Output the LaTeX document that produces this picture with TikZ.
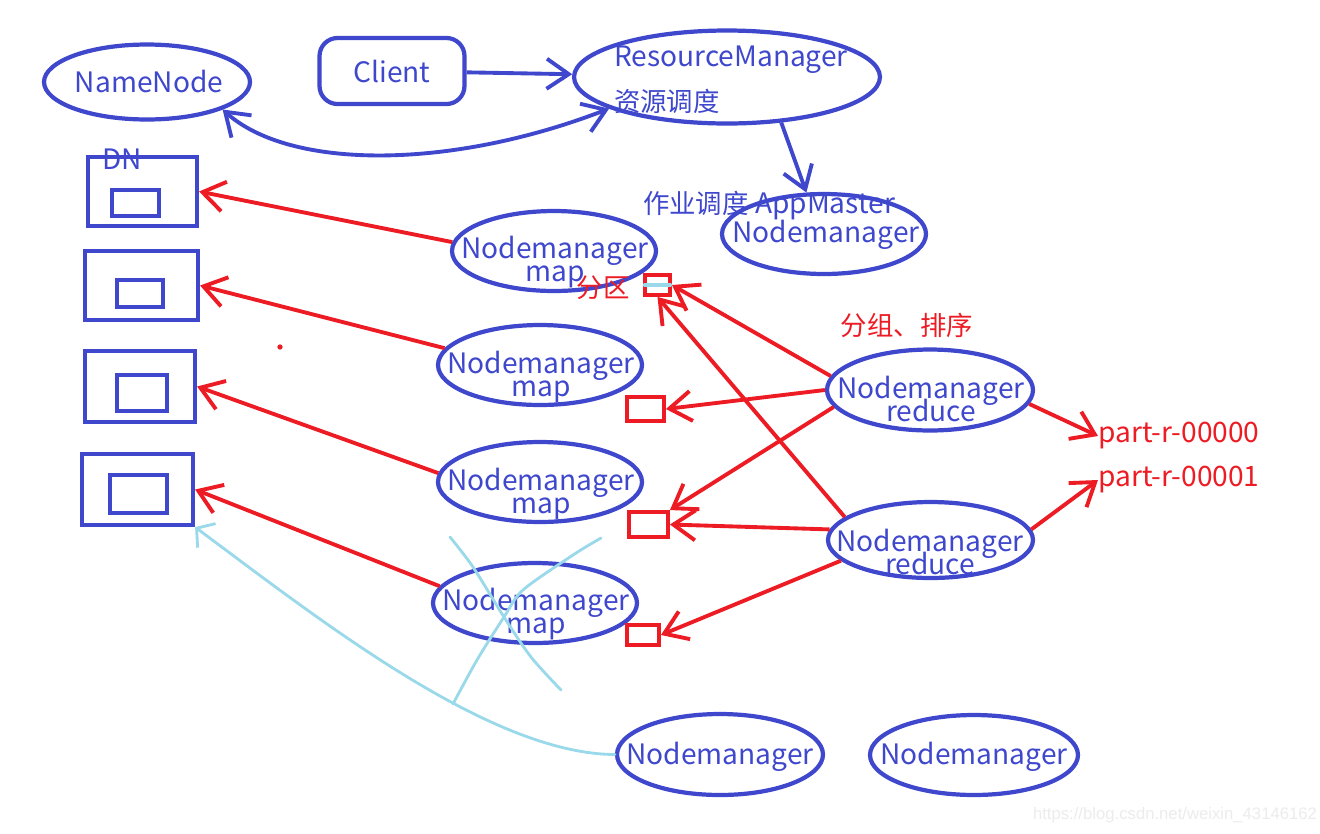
\documentclass[tikz,border=0pt]{standalone}
\usepackage{fontspec}
\setmainfont{Noto Sans CJK SC}
\newfontfamily\zhfont[Scale=0.94]{Noto Sans CJK SC}
\newfontfamily\markfont{Liberation Sans}
\usetikzlibrary{arrows.meta,shapes.geometric,positioning}
\definecolor{paintblue}{HTML}{3F48CC}
\definecolor{paintred}{HTML}{ED1C24}
\definecolor{paintsky}{HTML}{99D9EA}
\newcommand{\tightlines}{\lineskiplimit=-30pt\relax}

\begin{document}
\begin{tikzpicture}[
    x=0.02cm, y=-0.02cm,
    >={Straight Barb[length=4.4mm,width=6mm]},
    every node/.style={
        inner sep=0pt,
        font=\fontsize{16}{13.5}\selectfont\tightlines
    },
    nm/.style={ellipse, draw=paintblue, line width=2.4pt,
        minimum width=4.08cm, minimum height=1.6cm},
    nmtext/.style={text=paintblue, align=center},
    clientbox/.style={draw=paintblue, line width=2.4pt, rounded corners=0.36cm,
        minimum width=2.9cm, minimum height=1.32cm, text=paintblue},
    dnbox/.style={draw=paintblue, line width=2.4pt},
    partbox/.style={draw=paintred, line width=2.2pt},
    redtext/.style={text=paintred},
    zhred/.style={text=paintred, font=\fontsize{16}{13}\selectfont\zhfont},
    bluearrow/.style={draw=paintblue, line width=2.2pt, ->},
    redarrow/.style={draw=paintred, line width=2.2pt, ->},
    sketch/.style={draw=paintsky, line width=1.6pt, line cap=round}
]

% -------- Canvas --------
\path[fill=white] (0,0) rectangle (1320,833);
\useasboundingbox (0,0) rectangle (1320,833);

% -------- Top row --------
\node[nm, minimum width=4.12cm, minimum height=1.5cm] (namenode) at (147,82) {};
\node[nmtext] (namenodetxt) at (149,81) {NameNode};
\node[clientbox] (client) at (392,71) {Client};
\node[nm, minimum width=6.12cm, minimum height=1.86cm] (rm) at (727,77) {};
\node[nmtext, align=left, font=\fontsize{16}{25.5}\selectfont] (rmtxt) at (731,80)
    {ResourceManager\\{\zhfont 资源调度}};

% -------- AppMaster --------
\node[nm] (appmaster) at (824,234) {};
\node[nmtext] (appmastertxt) at (826,235) {Nodemanager};
\node[nmtext] (amlabel) at (769,206) {{\zhfont 作业调度} AppMaster};

% -------- DataNodes --------
\node[dnbox, minimum width=2.18cm, minimum height=1.38cm] (dn1) at (142.5,191.5) {};
\node[dnbox, minimum width=0.94cm, minimum height=0.52cm] (blk1) at (135.5,203) {};
\node[dnbox, minimum width=2.26cm, minimum height=1.38cm] (dn2) at (141.5,285.5) {};
\node[dnbox, minimum width=0.92cm, minimum height=0.54cm] (blk2) at (140,293.5) {};
\node[dnbox, minimum width=2.2cm, minimum height=1.42cm] (dn3) at (140,386.5) {};
\node[dnbox, minimum width=1.0cm, minimum height=0.72cm] (blk3) at (142,393) {};
\node[dnbox, minimum width=2.22cm, minimum height=1.42cm] (dn4) at (137.5,489.5) {};
\node[dnbox, minimum width=1.14cm, minimum height=0.76cm] (blk4) at (138.5,494) {};
\node[nmtext] (dnlabel) at (122,159) {DN};

% -------- Map tasks --------
\node[nm] (map1) at (554,251) {};
\node[nmtext] (map1txt) at (555,262) {Nodemanager\\map};
\node[nm] (map2) at (540,365) {};
\node[nmtext] (map2txt) at (541,377) {Nodemanager\\map};
\node[nm] (map3) at (540,482) {};
\node[nmtext] (map3txt) at (541,494) {Nodemanager\\map};
\node[nm] (map4) at (535,603) {};
\node[nmtext] (map4txt) at (536,614) {Nodemanager\\map};

% -------- Partitions --------
\node[partbox, minimum width=0.5cm, minimum height=0.4cm] (part1) at (657.5,285) {};
\node[partbox, minimum width=0.74cm, minimum height=0.48cm] (part2) at (645.5,409) {};
\node[partbox, minimum width=0.78cm, minimum height=0.5cm] (part3) at (648.5,524.5) {};
\node[partbox, minimum width=0.64cm, minimum height=0.4cm] (part4) at (643,635) {};
\node[zhred] (parttxt) at (603,288) {分区};

% -------- Reduce tasks --------
\node[nm, minimum width=4.12cm, minimum height=1.62cm] (reduce1) at (930,390) {};
\node[nmtext] (reduce1txt) at (931,399) {Nodemanager\\reduce};
\node[nm, minimum width=4.1cm, minimum height=1.52cm] (reduce2) at (930.5,540) {};
\node[nmtext] (reduce2txt) at (930,552) {Nodemanager\\reduce};
\node[zhred] (grouptxt) at (907,325) {分组、排序};
\node[redtext, anchor=west] (out0) at (1098,436) {part-r-00000};
\node[redtext, anchor=west] (out1) at (1098,480) {part-r-00001};

% -------- Idle nodes --------
\node[nm, minimum width=4.12cm, minimum height=1.62cm] (idle1) at (720,754.5) {};
\node[nmtext] (idle1txt) at (720,757) {Nodemanager};
\node[nm, minimum width=4.16cm] (idle2) at (974,755) {};
\node[nmtext] (idle2txt) at (974,757) {Nodemanager};

% -------- Blue connectors --------
\draw[bluearrow] (client) -- (rm);
\draw[bluearrow] (rm.-40) -- (appmaster.113);
\draw[bluearrow, <->] (namenode.-20) .. controls (290,170) and (450,170) .. (rm.195);

% -------- Map -> DN --------
\draw[redarrow] (map1.175) -- (dn1.east);
\draw[redarrow] (map2.170) -- (dn2.east);
\draw[redarrow] (map3.175) -- (dn3.east);
\draw[redarrow] (map4.170) -- (dn4.east);

% -------- Reduce -> partitions / output --------
\draw[redarrow] (reduce1.172) -- (part1.east);
\draw[redarrow] (reduce1.west) -- (part2.east);
\draw[redarrow] (reduce1.190) -- (part3.north east);
\draw[redarrow] (reduce2.165) -- (part1.south);
\draw[redarrow] (reduce2.174) -- (part3.east);
\draw[redarrow] (reduce2.193) -- (part4.east);
\draw[redarrow] (reduce1.-8) -- (out0.west);
\draw[redarrow] (reduce2.6) -- (out1.west);

% -------- Sketch marks --------
\draw[sketch, -{Straight Barb[length=2.5mm,width=6mm]}]
    (idle1.west) .. controls (490,754) and (320,620) .. (dn4.south east);
\draw[sketch] plot[smooth] coordinates {(450,537) (473,567) (504,617) (531,657) (561,690)};
\draw[sketch] plot[smooth] coordinates {(601,538) (573,555) (523,590) (504,617) (477,660) (453,704)};
\draw[sketch, line width=2.4pt] ([xshift=1pt]part1.west) -- ([xshift=-1pt]part1.east);
\fill[paintred] (280,347) circle (1.5pt);

% -------- Watermark --------
\node[text=gray!15, font=\markfont\fontsize{9.5}{10}\selectfont] (watermark) at (1175,815)
    {https://blog.csdn.net/weixin\_43146162};

\end{tikzpicture}
\end{document}
